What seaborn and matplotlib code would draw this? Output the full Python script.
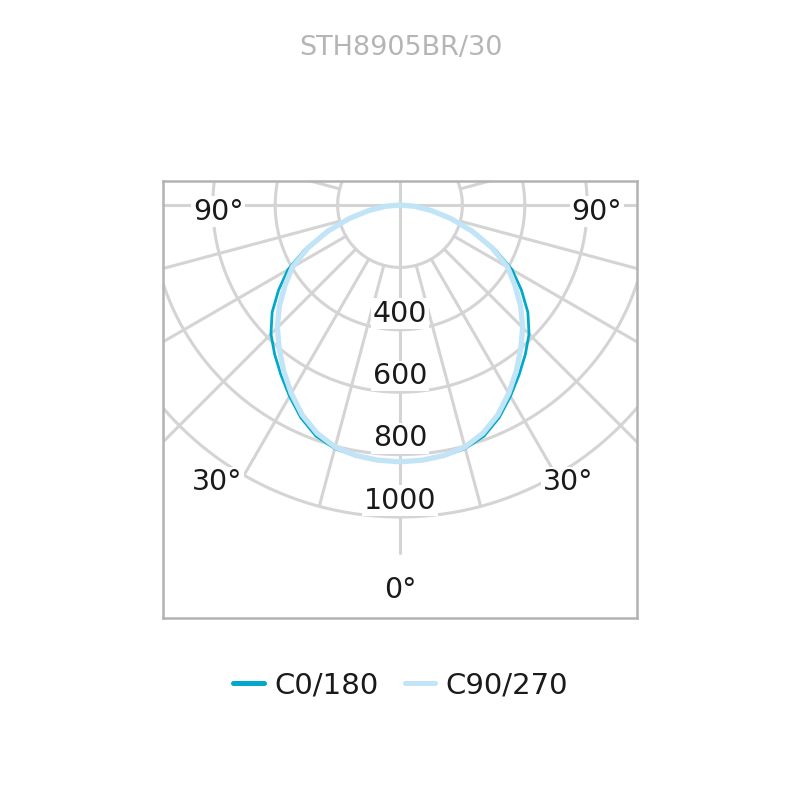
"""
Curva fotométrica polar - STH8905BR/30
"""

import matplotlib

matplotlib.use("Agg")
import matplotlib.pyplot as plt
import numpy as np
import pandas as pd
import seaborn as sns

sns.set_style("white")
plt.rcParams["font.family"] = ["DejaVu Sans"]

titulo = "STH8905BR/30"
angulos = [0, 5, 10, 15, 20, 25, 30, 35, 40, 45, 50, 55, 60, 65, 70, 75, 80, 85, 90]
c0_180 = [823, 822, 817, 808, 788, 752, 708, 665, 625, 585, 535, 475, 415, 335, 252, 172, 104, 48, 0]
c90_270 = [823, 821, 815, 803, 778, 742, 697, 650, 602, 556, 505, 450, 398, 326, 247, 170, 102, 48, 0]
series = ["C0/180", "C90/270"]
cores = ["#00a9c9", "#c1e4f6"]

aneis = [200, 400, 600, 800, 1000]
rotulos_aneis = ["400", "600", "800", "1000"]
angulos_grade = [15, 30, 45, 60, 75, 105]
raio_final = [1000, 1000, 1130, 1130, 1130, 1130]
rotulos_angulos = ["90°", "90°", "30°", "30°", "0°"]

cor_grade = "#d4d4d4"

# Montar tabela (meio esquerdo espelhado)
linhas = []
for nome, valores in zip(series, [c0_180, c90_270]):
    ang = np.radians(np.r_[-np.array(angulos[::-1]), np.array(angulos[1:])])
    val = np.r_[np.array(valores[::-1]), np.array(valores[1:])]
    for a, v in zip(ang, val):
        linhas.append({"serie": nome, "x": v * np.sin(a), "y": -v * np.cos(a)})
df = pd.DataFrame(linhas)

fig = plt.figure(figsize=(8.01, 8.01), dpi=100)
ax = fig.add_axes([163 / 801, 183 / 801, 474 / 801, 437 / 801])

# Grade polar
t = np.linspace(0, 2 * np.pi, 400)
for r in aneis:
    ax.plot(r * np.sin(t), r * np.cos(t), color=cor_grade, lw=2.2, zorder=1)
for a, rf in zip(angulos_grade, raio_final):
    ar = np.radians(a)
    for s in (-1, 1):
        ax.plot(
            [s * aneis[0] * np.sin(ar), s * rf * np.sin(ar)],
            [-aneis[0] * np.cos(ar), -rf * np.cos(ar)],
            color=cor_grade,
            lw=2.2,
            zorder=1,
        )
ax.plot([0, 0], [100, -1115], color=cor_grade, lw=2.2, zorder=1)
ax.plot([-900, 900], [0, 0], color=cor_grade, lw=2.2, zorder=1)

# Curvas
larguras = [2.0, 3.8]
for nome, cor, lw in zip(series, cores, larguras):
    sns.lineplot(
        data=df[df["serie"] == nome],
        x="x",
        y="y",
        sort=False,
        estimator=None,
        color=cor,
        linewidth=lw,
        label=nome,
        ax=ax,
        zorder=3,
    )
for ln in ax.get_lines():
    ln.set_solid_joinstyle("round")

# Rótulos dos anéis
caixa = dict(boxstyle="square,pad=0.05", fc="white", ec="none")
for r, txt in zip(aneis[1:], rotulos_aneis):
    ax.text(0, -r + 52, txt, ha="center", va="center", fontsize=20.5,
            color="#1a1a1a", zorder=4, bbox=caixa)

# Rótulos dos ângulos
pos_angulos = [(-583, -22), (631, -22), (-587, -888), (538, -888), (0, -1234)]
for (x, y), txt in zip(pos_angulos, rotulos_angulos):
    ax.text(x, y, txt, ha="center", va="center", fontsize=20.5,
            color="#1a1a1a", zorder=4, bbox=caixa)

ax.set_xlim(-759.6, 759.6)
ax.set_ylim(-1323.7, 77)
ax.set_aspect("equal", adjustable="box")
ax.set_xticks([])
ax.set_yticks([])
ax.set_xlabel("")
ax.set_ylabel("")
for sp in ax.spines.values():
    sp.set_color("#b3b3b3")
    sp.set_linewidth(1.8)
    sp.set_zorder(5)

fig.text(0.5, 1 - 48 / 801, titulo, ha="center", va="center", fontsize=19.5,
         color="#b5b5b5")

leg = ax.legend(
    loc="center",
    bbox_to_anchor=(0.5, 1 - 685 / 801),
    bbox_transform=fig.transFigure,
    ncol=2,
    frameon=False,
    handlelength=1.05,
    handletextpad=0.35,
    columnspacing=0.9,
    prop={"size": 21},
)
for h in leg.get_lines():
    h.set_linewidth(3.6)
for tx in leg.get_texts():
    tx.set_color("#1a1a1a")

fig.savefig("out.png", dpi=100)
plt.close()
